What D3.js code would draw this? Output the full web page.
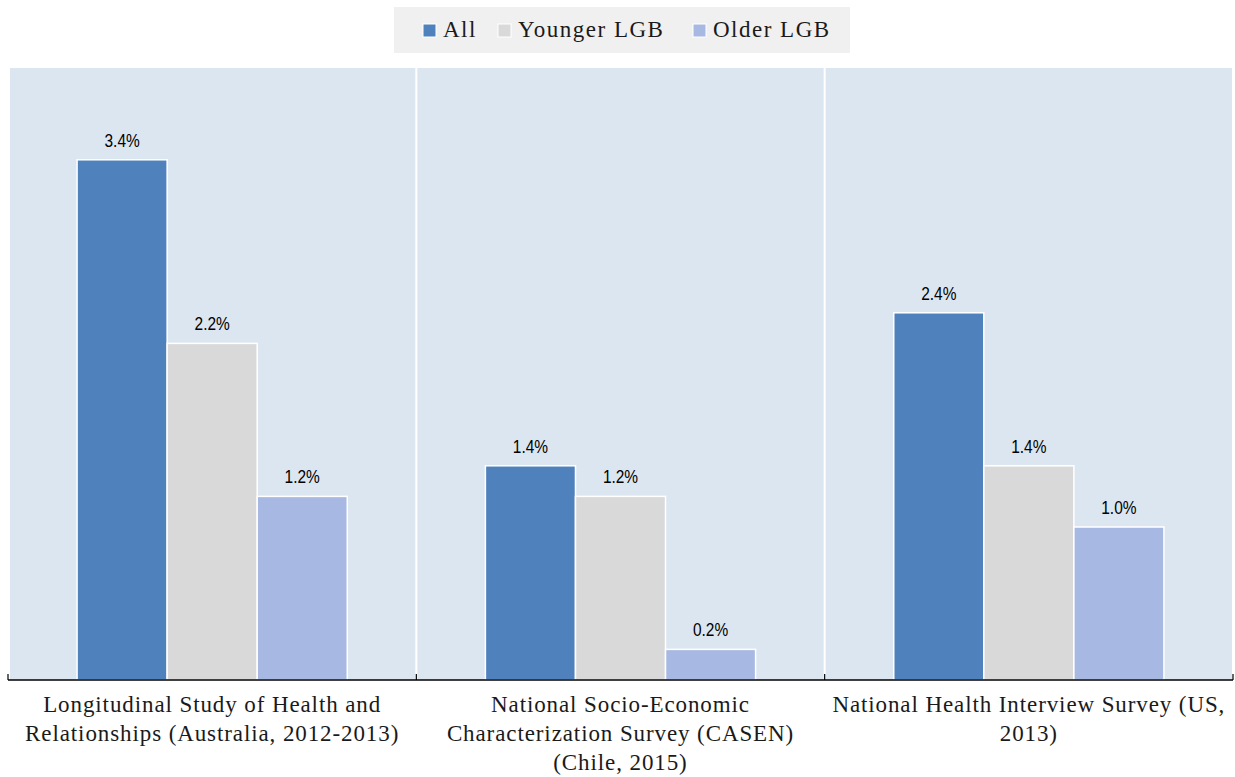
<!DOCTYPE html>
<html>
<head>
<meta charset="utf-8">
<script src="https://cdn.jsdelivr.net/npm/d3@7"></script>
<style>
  body { margin: 0; background: #fff; }
</style>
</head>
<body>
<div id="chart"></div>
<script>
const categories = [
  ["Longitudinal Study of Health and", "Relationships (Australia, 2012-2013)"],
  ["National Socio-Economic", "Characterization Survey (CASEN)", "(Chile, 2015)"],
  ["National Health Interview Survey (US,", "2013)"]
];
const series = ["All", "Younger LGB", "Older LGB"];
const allValues = [3.4, 1.4, 2.4];
const youngerValues = [2.2, 1.2, 1.4];
const olderValues = [1.2, 0.2, 1.0];
const colors = ["#4f81bd", "#d9d9d9", "#a7b8e2"];

const width = 1235, height = 777;
const mLeft = 8, mRight = 1233, mTop = 68, mBottom = 680;
const serif = "Liberation Serif";

const svg = d3.select("#chart").append("svg")
  .attr("width", width)
  .attr("height", height);

const groupIdx = d3.range(categories.length);
const values = [allValues, youngerValues, olderValues];

const x0 = d3.scaleBand().domain(groupIdx).range([mLeft, mRight]).padding(0);
const x1 = d3.scaleBand().domain(series).range([0, x0.bandwidth()]).paddingInner(0).paddingOuter(0.767);
const y = d3.scaleLinear().domain([0, 4]).range([mBottom, mTop]);

// panel backgrounds
svg.selectAll("rect.panel")
  .data(groupIdx)
  .enter().append("rect")
  .attr("class", "panel")
  .attr("x", d => x0(d) + (d === 0 ? 2 : 1))
  .attr("y", mTop)
  .attr("width", d => x0.bandwidth() - (d === 0 ? 3 : 2))
  .attr("height", mBottom - mTop)
  .attr("fill", "#dce6f0");

// bars
const g = svg.selectAll("g.grp")
  .data(groupIdx)
  .enter().append("g")
  .attr("transform", d => `translate(${x0(d)},0)`);

g.selectAll("rect.bar")
  .data(i => series.map((s, k) => ({ s, k, v: values[k][i] })))
  .enter().append("rect")
  .attr("x", d => x1(d.s))
  .attr("y", d => y(d.v))
  .attr("width", x1.bandwidth())
  .attr("height", d => mBottom - y(d.v))
  .attr("fill", d => colors[d.k])
  .attr("stroke", "#fff")
  .attr("stroke-width", 1.5);

// value labels (narrow sans look via horizontal squeeze)
g.selectAll("text.val")
  .data(i => series.map((s, k) => ({ s, k, v: values[k][i] })))
  .enter().append("text")
  .attr("transform", d => `translate(${x1(d.s) + x1.bandwidth() / 2},${y(d.v) - 13}) scale(0.86,1)`)
  .attr("text-anchor", "middle")
  .attr("font-family", "Liberation Sans")
  .attr("font-size", 18)
  .attr("fill", "#000")
  .text(d => d.v.toFixed(1) + "%");

// x axis
const axis = svg.append("g");
axis.append("line")
  .attr("x1", mLeft).attr("x2", mRight)
  .attr("y1", mBottom).attr("y2", mBottom)
  .attr("stroke", "#000").attr("stroke-width", 1.5);
const ticks = groupIdx.map(d => x0(d)).concat([mRight]);
axis.selectAll("line.tick")
  .data(ticks)
  .enter().append("line")
  .attr("x1", d => d).attr("x2", d => d)
  .attr("y1", mBottom).attr("y2", mBottom - 6)
  .attr("stroke", "#000").attr("stroke-width", 1.2);

axis.selectAll("text.cat")
  .data(groupIdx)
  .enter().append("text")
  .attr("x", d => x0(d) + x0.bandwidth() / 2)
  .attr("y", 712)
  .attr("text-anchor", "middle")
  .attr("font-family", serif)
  .attr("font-size", 23)
  .attr("letter-spacing", 0.9)
  .attr("fill", "#1a1a1a")
  .selectAll("tspan")
  .data(d => categories[d])
  .enter().append("tspan")
  .attr("x", function () { return d3.select(this.parentNode).attr("x"); })
  .attr("dy", (d, i) => i === 0 ? 0 : 29)
  .text(d => d);

// legend
const legend = svg.append("g");
legend.append("rect")
  .attr("x", 394).attr("y", 7).attr("width", 456).attr("height", 46)
  .attr("fill", "#f0f0f0");
const legendX = [423, 498, 693];
series.forEach((s, k) => {
  legend.append("rect")
    .attr("x", legendX[k]).attr("y", 24).attr("width", 13).attr("height", 13)
    .attr("fill", colors[k]).attr("stroke", "#fff").attr("stroke-width", 1);
  legend.append("text")
    .attr("x", legendX[k] + 20).attr("y", 37)
    .attr("font-family", serif)
    .attr("font-size", 23)
    .attr("letter-spacing", 1.5)
    .attr("fill", "#1a1a1a")
    .text(s);
});
</script>
</body>
</html>
